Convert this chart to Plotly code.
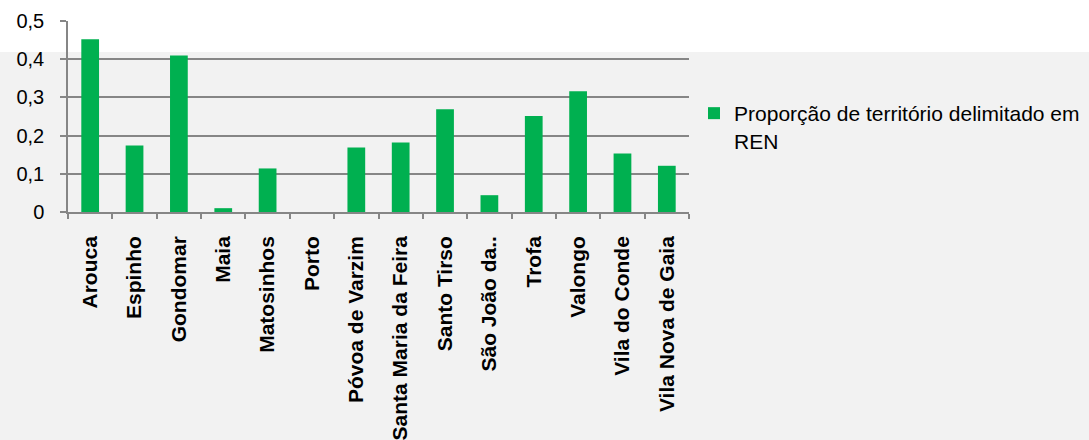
import plotly.graph_objects as go

municipios = [
    "Arouca", "Espinho", "Gondomar", "Maia", "Matosinhos", "Porto",
    "Póvoa de Varzim", "Santa Maria da Feira", "Santo Tirso", "São João da..",
    "Trofa", "Valongo", "Vila do Conde", "Vila Nova de Gaia",
]
proporcao_ren = [
    0.452, 0.174, 0.410, 0.010, 0.114, 0.0,
    0.169, 0.182, 0.269, 0.044,
    0.251, 0.316, 0.153, 0.121,
]
y_ticks = [0, 0.1, 0.2, 0.3, 0.4, 0.5]
y_labels = ["0", "0,1", "0,2", "0,3", "0,4", "0,5"]

GREEN = "#00b050"
GRID = "#868686"
FONT = "Liberation Sans, Arial, sans-serif"

fig = go.Figure()
fig.add_trace(
    go.Bar(
        x=municipios,
        y=proporcao_ren,
        marker=dict(color=GREEN, line=dict(width=0)),
        name="Proporção de território delimitado em<br>REN",
    )
)

# grey band behind most of the picture (white strip at the top)
fig.add_shape(
    type="rect", xref="paper", yref="paper",
    x0=-0.2, x1=1.8, y0=-1.4, y1=0.8377,
    fillcolor="#f2f2f2", line_width=0, layer="below",
)

fig.update_layout(
    width=1089,
    height=440,
    margin=dict(l=68, r=400, t=21, b=228),
    paper_bgcolor="white",
    plot_bgcolor="rgba(0,0,0,0)",
    bargap=0.6,
    font=dict(family=FONT, color="#000000", size=20),
    showlegend=True,
    legend=dict(
        xref="container", x=0.6373,
        y=0.445, xanchor="left", yanchor="middle",
        valign="top",
        bgcolor="rgba(0,0,0,0)",
        font=dict(size=21, family=FONT, color="#000000"),
        itemwidth=30,
    ),
)

fig.update_xaxes(
    type="category",
    automargin=False,
    tickangle=-90,
    tickfont=dict(size=21, family=FONT, color="#000000", weight="bold"),
    showline=True, linecolor=GRID, linewidth=1.5,
    ticks="outside", tickson="boundaries", ticklen=5, tickcolor=GRID, tickwidth=1.5,
    ticklabelstandoff=14,
    showgrid=False,
)
fig.update_yaxes(
    range=[0, 0.5],
    automargin=False,
    tickvals=y_ticks,
    ticktext=y_labels,
    tickfont=dict(size=20, family=FONT, color="#000000"),
    showgrid=True, gridcolor=GRID, gridwidth=1.5,
    showline=True, linecolor=GRID, linewidth=1.5,
    ticks="outside", ticklen=6, tickcolor=GRID, tickwidth=1.5,
    ticklabelstandoff=12,
    zeroline=False,
)

fig.write_html(
    "out.html",
    config={"displayModeBar": False},
    post_script="document.body.style.margin='0';",
)
